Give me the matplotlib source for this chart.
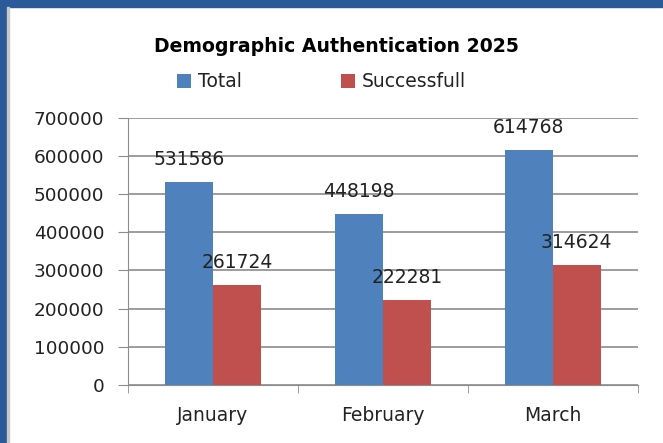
import numpy as np
import matplotlib
matplotlib.use('Agg')
from matplotlib import pyplot as plt
from matplotlib.patches import Rectangle

months = ['January', 'February', 'March']
total = [531586, 448198, 614768]
successfull = [261724, 222281, 314624]

plt.rcParams['font.family'] = ['DejaVu Sans']
fig = plt.figure(figsize=(6.63, 4.43), dpi=100)
ax = fig.add_axes([0.193, 0.131, 0.769, 0.603])

# blue frame around the slide
fig.patches.append(Rectangle((0, 0.984), 1, 0.016, transform=fig.transFigure, color='#2a5a98', zorder=0))
fig.patches.append(Rectangle((0, 0), 0.010, 1, transform=fig.transFigure, color='#2a5a98', zorder=0))
fig.patches.append(Rectangle((0.010, 0), 0.003, 0.984, transform=fig.transFigure, color='#c8c8c8', zorder=0))

x = np.arange(len(months))
w = 0.282
b1 = ax.bar(x - w/2, total, w, color='#4f81bd', zorder=3, label='Total')
b2 = ax.bar(x + w/2, successfull, w, color='#c0504d', zorder=3, label='Successfull')

for i in range(len(months)):
    ax.text(x[i] - w/2, total[i] + 60000, str(total[i]), ha='center', va='center', fontsize=13.5, color='#222222', zorder=4)
    ax.text(x[i] + w/2, successfull[i] + 60000, str(successfull[i]), ha='center', va='center', fontsize=13.5, color='#222222', zorder=4)

ax.set_xlim(-0.5, 2.5)
ax.set_ylim(0, 700000)
ax.set_yticks(np.arange(0, 700001, 100000))
ax.grid(axis='y', color='#8c8c8c', linewidth=1.2, zorder=1)
ax.set_xticks(x)
ax.set_xticklabels(months, fontsize=13.5, color='#222222')
ax.set_xticks([-0.5, 0.5, 1.5, 2.5], minor=True)
ax.tick_params(axis='x', which='major', length=0, pad=15.5)
ax.tick_params(axis='x', which='minor', length=6, color='#8c8c8c')
ax.tick_params(axis='y', labelsize=13.3, labelcolor='#222222', length=7, color='#8c8c8c', pad=10)
for s in ['top', 'right']:
    ax.spines[s].set_visible(False)
ax.spines['left'].set_color('#8c8c8c')
ax.spines['bottom'].set_color('#8c8c8c')

fig.text(0.508, 0.896, 'Demographic Authentication 2025', ha='center', va='center', fontsize=13.6, fontweight='bold')
fig.legend(handles=[b1, b2], loc='center', bbox_to_anchor=(0.485, 0.815), ncol=2, frameon=False,
           fontsize=13.5, handlelength=0.75, handleheight=0.75, handletextpad=0.35, columnspacing=5.3,
           labelcolor='#222222')

fig.savefig('out.png', dpi=100)
